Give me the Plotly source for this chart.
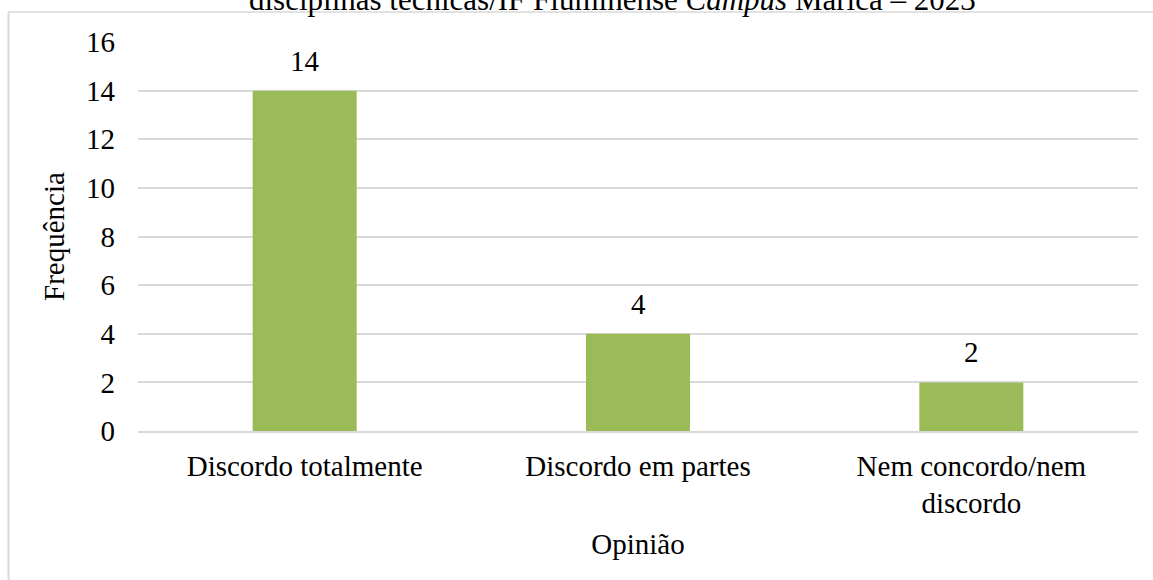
import plotly.graph_objects as go

categories = ["Discordo totalmente", "Discordo em partes", "Nem concordo/nem<br>discordo"]
values = [14, 4, 2]
y_ticks = [0, 2, 4, 6, 8, 10, 12, 14, 16]
title_text = "disciplinas técnicas/IF Fluminense <i>Campus</i> Maricá – 2023"
x_title = "Opinião"
y_title = "Frequência"

FONT = "Liberation Serif"
BAR = "#9BBB59"
GRID = "#D9D9D9"

fig = go.Figure(go.Bar(x=categories, y=values, marker=dict(color=BAR, line=dict(width=0)),
                       hoverinfo="skip"))

for c, v in zip(categories, values):
    fig.add_annotation(x=c, y=v, text=str(v), showarrow=False, yanchor="bottom", yshift=12,
                       font=dict(family=FONT, size=29, color="#000000"))

fig.add_annotation(xref="paper", yref="paper", x=0.474, y=1, yanchor="bottom", yshift=23,
                   text=title_text, showarrow=False,
                   font=dict(family=FONT, size=31, color="#000000"))

# outer chart border (top and left, as visible in the crop)
fig.add_shape(type="line", xref="paper", yref="paper", x0=-0.13, x1=1.02, y0=1.0771, y1=1.0771,
              line=dict(color=GRID, width=1.5))
fig.add_shape(type="line", xref="paper", yref="paper", x0=-0.1295, x1=-0.1295, y0=1.0771, y1=-0.4,
              line=dict(color=GRID, width=2))

fig.update_layout(
    width=1153, height=580,
    margin=dict(l=138, r=15, t=42, b=149),
    paper_bgcolor="white", plot_bgcolor="white",
    bargap=0.688,
    showlegend=False,
    font=dict(family=FONT, size=29, color="#000000"),
)
fig.update_xaxes(
    showgrid=False, showline=True, linecolor=GRID, linewidth=1.5,
    tickfont=dict(family=FONT, size=29, color="#000000"),
    ticklabelstandoff=8,
    title=dict(text=x_title, font=dict(family=FONT, size=29, color="#000000"), standoff=15),
)
fig.update_yaxes(
    range=[0, 16], tickvals=y_ticks, showgrid=True, gridcolor=GRID, gridwidth=1.5,
    zeroline=False, showline=False,
    tickfont=dict(family=FONT, size=29, color="#000000"),
    ticklabelstandoff=22,
    title=dict(text=y_title, font=dict(family=FONT, size=29, color="#000000"), standoff=12),
)

fig.write_html("out.html", config={"displayModeBar": False},
               post_script="document.body.style.margin='0';")
